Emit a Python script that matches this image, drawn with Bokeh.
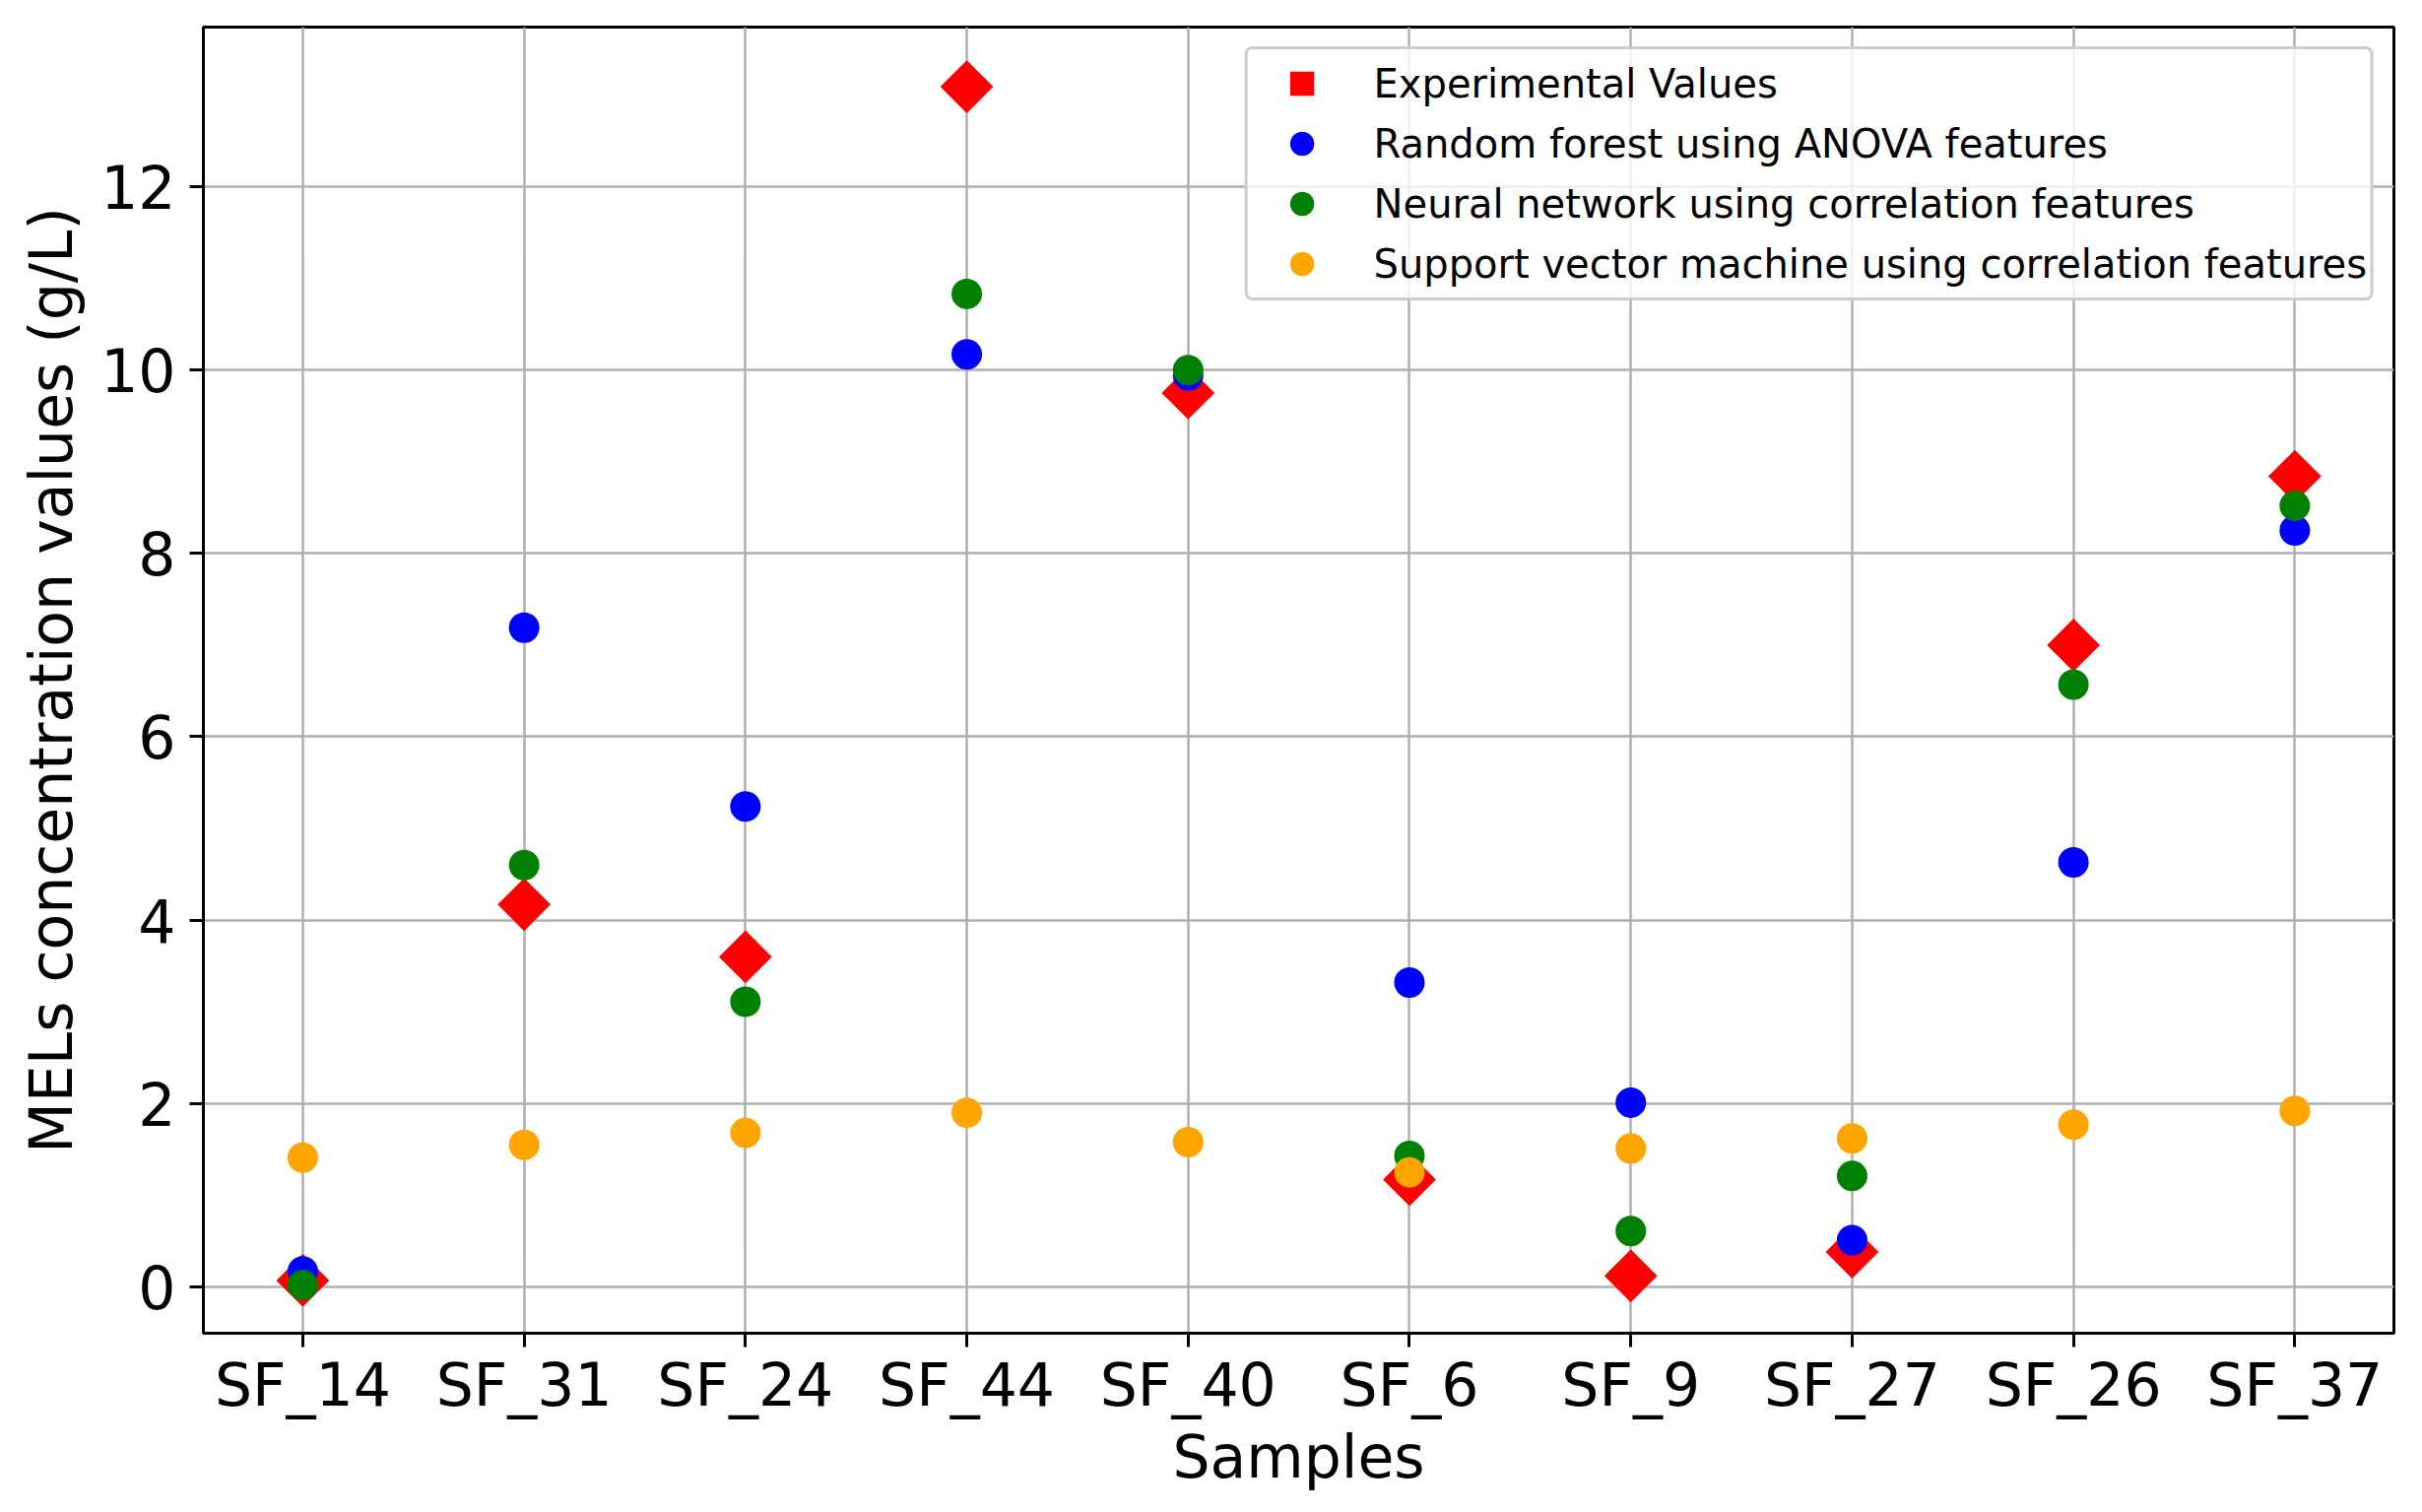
import math
from bokeh.plotting import figure
from bokeh.models import Range1d, FixedTicker, Legend, LegendItem
from bokeh.embed import file_html
from bokeh.resources import INLINE

# ---- data ----
samples = ["SF_14", "SF_31", "SF_24", "SF_44", "SF_40", "SF_6", "SF_9", "SF_27", "SF_26", "SF_37"]
experimental = [0.07, 4.17, 3.60, 13.09, 9.75, 1.17, 0.12, 0.38, 7.00, 8.84]
random_forest = [0.17, 7.19, 5.24, 10.17, 9.94, 3.32, 2.01, 0.51, 4.63, 8.25]
neural_network = [0.02, 4.60, 3.11, 10.83, 10.00, 1.43, 0.61, 1.21, 6.57, 8.52]
svm = [1.41, 1.55, 1.68, 1.90, 1.58, 1.25, 1.51, 1.62, 1.77, 1.92]
y_ticks = [0, 2, 4, 6, 8, 10, 12]
series_labels = [
    "Experimental Values",
    "Random forest using ANOVA features",
    "Neural network using correlation features",
    "Support vector machine using correlation features",
]

x = list(range(len(samples)))
FONT = "DejaVu Sans"

p = figure(
    frame_width=2224, frame_height=1326,
    x_range=Range1d(-0.449, 9.448), y_range=Range1d(-0.505, 13.74),
    output_backend="svg", toolbar_location=None,
    min_border_left=206, min_border_top=27, min_border_right=10, min_border_bottom=160,
)

r_exp = p.scatter(x, experimental, marker="square", angle=math.pi / 4, size=38,
                  fill_color="red", line_color=None)
r_rf = p.scatter(x, random_forest, marker="circle", size=31, fill_color="blue", line_color=None)
r_nn = p.scatter(x, neural_network, marker="circle", size=31, fill_color="green", line_color=None)
r_svm = p.scatter(x, svm, marker="circle", size=31, fill_color="orange", line_color=None)

legend = Legend(
    items=[LegendItem(label=l, renderers=[r]) for l, r in zip(series_labels, [r_exp, r_rf, r_nn, r_svm])],
    location="top_right", margin=20, padding=4,
    glyph_width=102, glyph_height=61, label_height=61, spacing=0, label_standoff=22,
    label_text_font=FONT, label_text_font_size="40px", label_text_color="black",
    border_line_color="#cccccc", border_line_width=3, border_line_alpha=1,
    background_fill_color="white", background_fill_alpha=0.8,
)
if "border_radius" in Legend.properties():
    legend.border_radius = 8
p.add_layout(legend)

p.xaxis.ticker = FixedTicker(ticks=x)
p.xaxis.major_label_overrides = {i: s for i, s in enumerate(samples)}
p.yaxis.ticker = FixedTicker(ticks=y_ticks)

for ax in (p.xaxis, p.yaxis):
    ax.major_tick_out = 14
    ax.major_tick_in = 0
    ax.minor_tick_out = 0
    ax.minor_tick_in = 0
    ax.major_tick_line_width = 3
    ax.axis_line_width = 3
    ax.axis_line_color = "black"
    ax.major_tick_line_color = "black"
    ax.major_label_text_font = FONT
    ax.major_label_text_font_size = "60px"
    ax.major_label_text_color = "black"
    ax.axis_label_text_font = FONT
    ax.axis_label_text_font_size = "60px"
    ax.axis_label_text_font_style = "normal"
    ax.axis_label_text_color = "black"

p.xaxis.axis_label = "Samples"
p.yaxis.axis_label = "MELs concentration values (g/L)"
p.xaxis.major_label_standoff = 3
p.xaxis.axis_label_standoff = 0
p.yaxis.major_label_standoff = 14
p.yaxis.axis_label_standoff = 12

p.grid.grid_line_color = "#b0b0b0"
p.grid.grid_line_width = 2.5
p.grid.grid_line_alpha = 1

p.outline_line_color = "black"
p.outline_line_width = 3
p.outline_line_alpha = 1
p.background_fill_color = "white"
p.border_fill_color = "white"

open("out.html", "w").write(file_html(p, INLINE))
